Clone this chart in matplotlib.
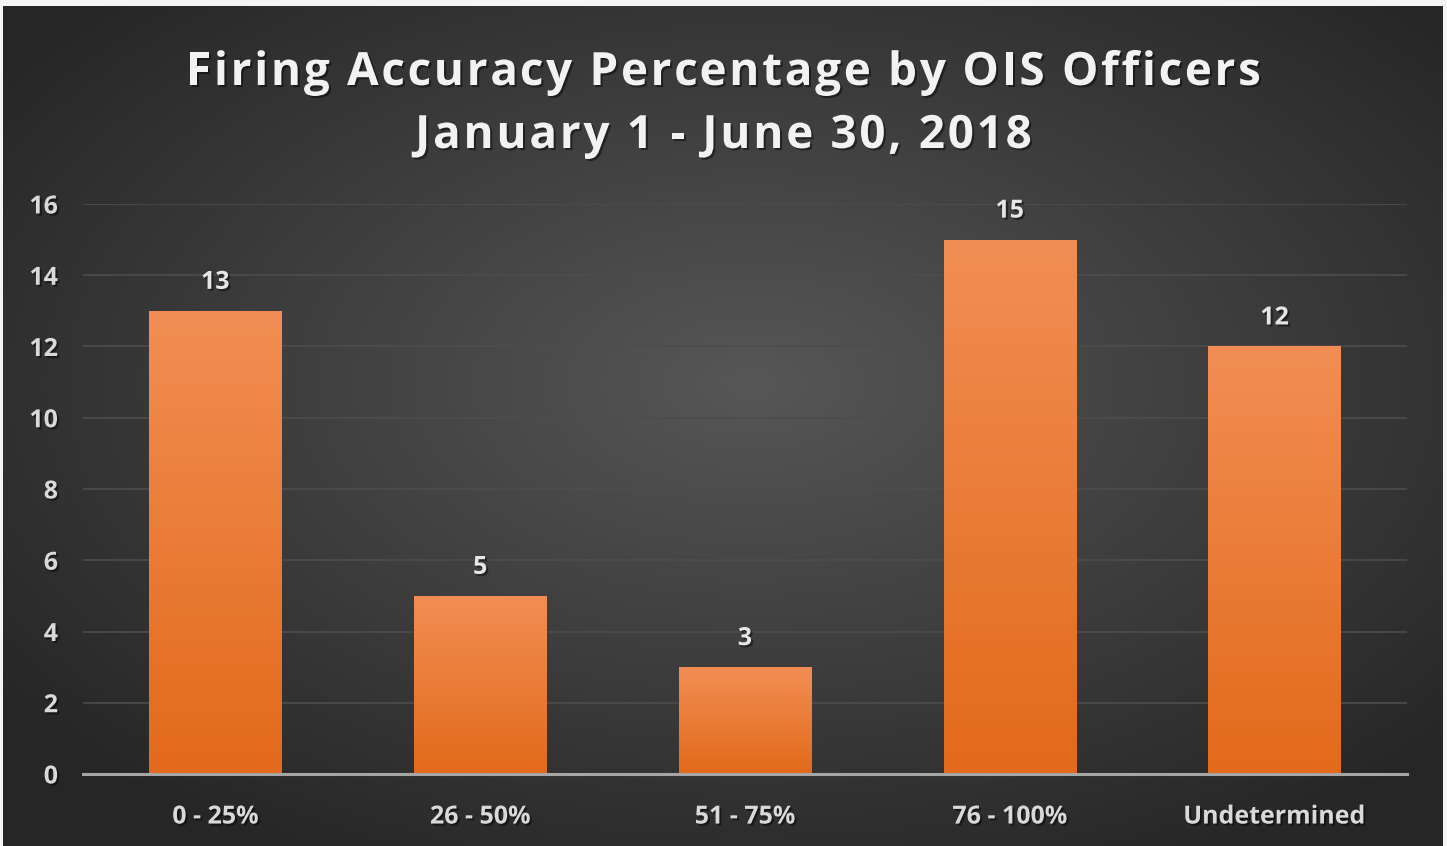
import numpy as np
import matplotlib
matplotlib.use("Agg")
from matplotlib import pyplot as plt
from matplotlib.patches import Rectangle
import matplotlib.patheffects as pe

categories = ["0 - 25%", "26 - 50%", "51 - 75%", "76 - 100%", "Undetermined"]
values = [13, 5, 3, 15, 12]
yticks = [0, 2, 4, 6, 8, 10, 12, 14, 16]
title_lines = ["Firing Accuracy Percentage by OIS Officers", "January 1 - June 30, 2018"]

W, H = 1447, 846
plt.rcParams['font.family'] = ['Open Sans', 'DejaVu Sans']
fig = plt.figure(figsize=(W / 100, H / 100), dpi=100, facecolor="#f4f4f4")
shadow = [pe.withSimplePatchShadow(offset=(1.5, -1.5), shadow_rgbFace="black", alpha=0.45)]

# dark background, lighter towards the middle
bg = fig.add_axes([3 / W, 0, (W - 7) / W, (H - 6) / H])
bg.set_axis_off()
yy, xx = np.mgrid[0:1:300j, 0:1:500j]
d = np.sqrt(((xx - 0.52) / 0.75) ** 2 + ((yy - 0.55) / 0.75) ** 2)
shade = np.clip(0.34 - 0.22 * d, 0.15, 0.34)
bg.imshow(np.dstack([shade] * 3), extent=[0, 1, 0, 1], aspect="auto", origin="lower")
bg.set_xlim(0, 1)
bg.set_ylim(0, 1)

ax = fig.add_axes([83 / W, 1 - 774 / H, (1407 - 83) / W, (774 - 204) / H])
ax.patch.set_alpha(0)
x = np.arange(len(categories))
bars = ax.bar(x, values, width=0.5, color="none", zorder=3)

top_c = np.array([242, 142, 84]) / 255
bot_c = np.array([226, 106, 26]) / 255
grad = np.linspace(0, 1, 256)[:, None]
for b, v in zip(bars, values):
    x0 = b.get_x()
    w = b.get_width()
    img = bot_c[None, None, :] * (1 - grad[..., None]) + top_c[None, None, :] * grad[..., None]
    im = ax.imshow(img, extent=[x0, x0 + w, 0, v], aspect="auto", origin="lower", zorder=3)
    im.set_clip_path(Rectangle((x0, 0), w, v, transform=ax.transData))
    ax.text(x0 + w / 2, v + 0.45, str(v), ha="center", va="bottom",
            color="#e6e6e6", fontsize=18, fontweight="bold", zorder=4, path_effects=shadow)

ax.set_xlim(-0.5, len(categories) - 0.5)
ax.set_ylim(0, 16)
ax.set_yticks(yticks)
ax.set_xticks(x)
ax.set_xticklabels(categories)
ax.yaxis.grid(True, color="#4d4d4d", linewidth=1.2, zorder=0)
ax.set_axisbelow(True)
for s in ["top", "right", "left"]:
    ax.spines[s].set_visible(False)
ax.spines["bottom"].set_color("#a6a6a6")
ax.spines["bottom"].set_linewidth(2.2)
ax.spines["bottom"].set_zorder(5)
ax.tick_params(axis="both", length=0, colors="#d9d9d9", labelsize=18)
ax.tick_params(axis="y", pad=18)
ax.tick_params(axis="x", pad=22)
for lab in ax.get_xticklabels() + ax.get_yticklabels():
    lab.set_fontweight("bold")
    lab.set_path_effects(shadow)

# title with letter spacing: place each character using prefix widths
renderer = fig.canvas.get_renderer()
track = 2.7  # extra px between letters
for ypix, line in zip([67, 130], title_lines):
    probe = fig.text(0, 0, line, fontsize=33, fontweight="bold")
    full_w = probe.get_window_extent(renderer).width
    probe.remove()
    total = full_w + track * (len(line) - 1)
    start = W / 2 - total / 2
    for i, ch in enumerate(line):
        if i:
            p = fig.text(0, 0, line[:i], fontsize=33, fontweight="bold")
            off = p.get_window_extent(renderer).width
            p.remove()
        else:
            off = 0
        fig.text((start + off + track * i) / W, 1 - ypix / H, ch, ha="left", va="center_baseline",
                 color="#f2f2f2", fontsize=33, fontweight="bold", path_effects=shadow)

fig.savefig("out.png", dpi=100, facecolor=fig.get_facecolor())
